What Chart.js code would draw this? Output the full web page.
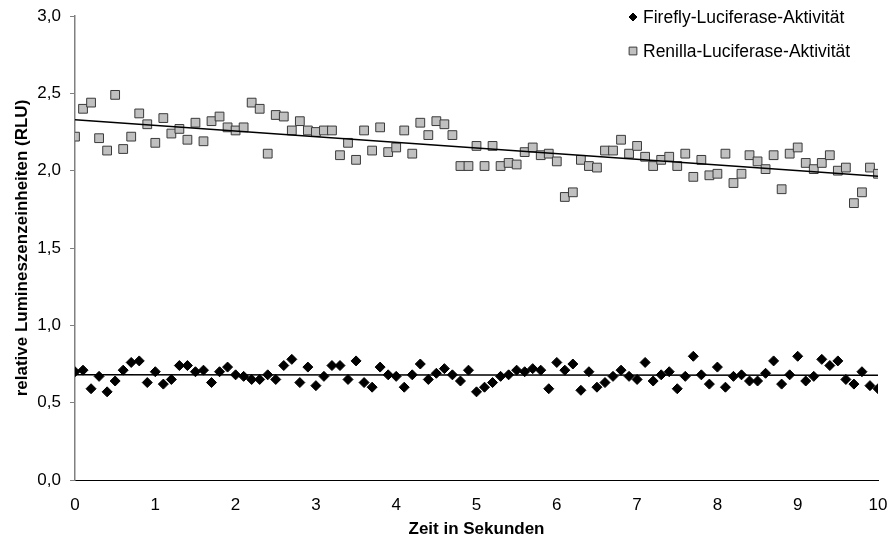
<!DOCTYPE html>
<html>
<head>
<meta charset="utf-8">
<script src="https://cdn.jsdelivr.net/npm/chart.js@4.4.1/dist/chart.umd.min.js"></script>
<style>
  html, body { margin: 0; padding: 0; background: #fff; }
  #wrap { width: 891px; height: 544px; position: relative; }
</style>
</head>
<body>
<div id="wrap"><canvas id="chart"></canvas></div>
<script>
// sampling grid: one reading every 0.1 s from 0 to 10 s
const T_START = 0
const T_STEP = 0.1
const X_TICKS = [0, 1, 2, 3, 4, 5, 6, 7, 8, 9, 10]
const Y_TICKS = [0, 0.5, 1, 1.5, 2, 2.5, 3]

const FIREFLY = [
  0.70, 0.71, 0.59, 0.67, 0.57, 0.64, 0.71, 0.76, 0.77, 0.63,
  0.70, 0.62, 0.65, 0.74, 0.74, 0.70, 0.71, 0.63, 0.70, 0.73,
  0.68, 0.67, 0.65, 0.65, 0.68, 0.65, 0.74, 0.78, 0.63, 0.73,
  0.61, 0.67, 0.74, 0.74, 0.65, 0.77, 0.63, 0.60, 0.73, 0.68,
  0.67, 0.60, 0.68, 0.75, 0.65, 0.69, 0.72, 0.68, 0.64, 0.71,
  0.57, 0.60, 0.63, 0.67, 0.68, 0.71, 0.70, 0.72, 0.71, 0.59,
  0.76, 0.71, 0.75, 0.58, 0.70, 0.60, 0.63, 0.67, 0.71, 0.67,
  0.65, 0.76, 0.64, 0.68, 0.70, 0.59, 0.67, 0.80, 0.68, 0.62,
  0.73, 0.60, 0.67, 0.68, 0.64, 0.64, 0.69, 0.77, 0.62, 0.68,
  0.80, 0.64, 0.67, 0.78, 0.74, 0.77, 0.65, 0.62, 0.70, 0.61,
  0.59,
]

const RENILLA = [
  2.22, 2.40, 2.44, 2.21, 2.13, 2.49, 2.14, 2.22, 2.37, 2.30,
  2.18, 2.34, 2.24, 2.27, 2.20, 2.31, 2.19, 2.32, 2.35, 2.28,
  2.26, 2.28, 2.44, 2.40, 2.11, 2.36, 2.35, 2.26, 2.32, 2.26,
  2.25, 2.26, 2.26, 2.10, 2.18, 2.07, 2.26, 2.13, 2.28, 2.12,
  2.15, 2.26, 2.11, 2.31, 2.23, 2.32, 2.30, 2.23, 2.03, 2.03,
  2.16, 2.03, 2.16, 2.03, 2.05, 2.04, 2.12, 2.15, 2.10, 2.11,
  2.06, 1.83, 1.86, 2.07, 2.03, 2.02, 2.13, 2.13, 2.20, 2.11,
  2.16, 2.09, 2.03, 2.07, 2.09, 2.03, 2.11, 1.96, 2.07, 1.97,
  1.98, 2.11, 1.92, 1.98, 2.10, 2.06, 2.01, 2.10, 1.88, 2.11,
  2.15, 2.05, 2.01, 2.05, 2.10, 2.00, 2.02, 1.79, 1.86, 2.02,
  1.98,
]

const FONT = "'Liberation Sans', Arial, sans-serif"
const TEXT = "#000000"

const toPoints = (values) =>
  values.map((v, i) => ({ x: +(T_START + i * T_STEP).toFixed(1), y: v }))

// least squares line, drawn across the full time range like a spreadsheet trendline
function trend(points) {
  const n = points.length
  let sx = 0, sy = 0, sxx = 0, sxy = 0
  points.forEach((p) => { sx += p.x; sy += p.y; sxx += p.x * p.x; sxy += p.x * p.y })
  const slope = (n * sxy - sx * sy) / (n * sxx - sx * sx)
  const icpt = (sy - slope * sx) / n
  const x0 = X_TICKS[0], x1 = X_TICKS[X_TICKS.length - 1]
  return [{ x: x0, y: icpt + slope * x0 }, { x: x1, y: icpt + slope * x1 }]
}

const fireflyPts = toPoints(FIREFLY)
const renillaPts = toPoints(RENILLA)

const trendStyle = {
  showLine: true,
  borderColor: "#000000",
  borderWidth: 1.5,
  pointRadius: 0,
  fill: false,
  order: 0,
  inLegend: false,
}

// legend inside the plot, top right, one entry per row
const cornerLegend = {
  id: "cornerLegend",
  afterDraw(chart, args, opts) {
    const { ctx } = chart
    let y = opts.top
    ctx.save()
    ctx.font = `${opts.fontSize}px ${FONT}`
    ctx.textBaseline = "middle"
    ctx.textAlign = "left"
    chart.data.datasets.forEach((ds) => {
      if (ds.inLegend === false) return
      ctx.fillStyle = ds.backgroundColor
      ctx.strokeStyle = ds.borderColor
      ctx.lineWidth = 1
      Chart.helpers.drawPoint(ctx, {
        pointStyle: ds.pointStyle,
        radius: ds.legendRadius,
        borderWidth: 1,
        rotation: 0,
      }, opts.left, y)
      ctx.fillStyle = TEXT
      ctx.fillText(ds.label, opts.left + 10, y + 1)
      y += opts.rowGap
    })
    ctx.restore()
  },
}

// fixed axis boxes, no extra room reserved for overhanging tick labels
const fixBox = (size) => (s) => {
  if (s.isHorizontal()) s.height = size
  else s.width = size
  s.paddingLeft = s.paddingRight = s.paddingTop = s.paddingBottom = 0
}

const tickFont = { family: FONT, size: 17 }
const titleFont = { family: FONT, size: 17, weight: "bold" }

new Chart(document.getElementById("chart"), {
  type: "scatter",
  data: {
    datasets: [
      { ...trendStyle, label: "trend Firefly", data: trend(fireflyPts) },
      { ...trendStyle, label: "trend Renilla", data: trend(renillaPts) },
      {
        label: "Firefly-Luciferase-Aktivität",
        data: fireflyPts,
        pointStyle: "rectRot",
        pointRadius: 5,
        legendRadius: 4,
        backgroundColor: "#000000",
        borderColor: "#000000",
        borderWidth: 1,
        order: 1,
      },
      {
        label: "Renilla-Luciferase-Aktivität",
        data: renillaPts,
        pointStyle: "rect",
        pointRadius: 6.2,
        legendRadius: 5.5,
        backgroundColor: "#c0c0c0",
        borderColor: "#3a3a3a",
        borderWidth: 1,
        order: 1,
      },
    ],
  },
  options: {
    responsive: true,
    maintainAspectRatio: false,
    animation: false,
    events: [],
    layout: { padding: { top: 16, right: 13, left: 0, bottom: 0 } },
    plugins: {
      legend: { display: false },
      tooltip: { enabled: false },
      cornerLegend: { left: 633, top: 17, rowGap: 34, fontSize: 17.5 },
    },
    scales: {
      x: {
        type: "linear",
        min: 0,
        max: 10,
        afterFit: fixBox(64),
        afterBuildTicks: (s) => { s.ticks = X_TICKS.map((v) => ({ value: v })) },
        ticks: { color: TEXT, font: tickFont, padding: 15, maxRotation: 0 },
        grid: { display: false, drawTicks: false },
        border: { color: "#000000", width: 1 },
        title: { display: true, text: "Zeit in Sekunden", color: TEXT, font: titleFont, padding: { top: 0, bottom: 4 } },
      },
      y: {
        type: "linear",
        min: 0,
        max: 3,
        afterFit: fixBox(75),
        afterBuildTicks: (s) => { s.ticks = Y_TICKS.map((v) => ({ value: v })) },
        ticks: {
          color: TEXT,
          font: tickFont,
          padding: 9,
          callback: (v) => v.toFixed(1).replace(".", ","),
        },
        grid: { display: true, drawOnChartArea: false, drawTicks: true, tickLength: 5, color: "#808080" },
        border: { color: "#808080", width: 1.5 },
        title: { display: true, text: "relative Lumineszenzeinheiten (RLU)", color: TEXT, font: titleFont, padding: { top: 12, bottom: 0 } },
      },
    },
  },
  plugins: [cornerLegend],
})
</script>
</body>
</html>
